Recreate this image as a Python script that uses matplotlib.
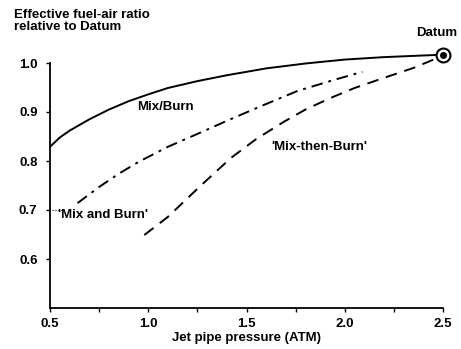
import numpy as np
import matplotlib
matplotlib.use("Agg")
import matplotlib.pyplot as plt
from matplotlib.ticker import MultipleLocator

plt.rcParams['font.family'] = ['Liberation Sans', 'DejaVu Sans']
plt.rcParams['font.weight'] = 'bold'
plt.rcParams['axes.labelweight'] = 'bold'

# Curves (jet pipe pressure in ATM, effective ratio)
mix_burn_p = [0.5, 0.55, 0.6, 0.7, 0.8, 0.9, 1.0, 1.1, 1.25, 1.4, 1.6, 1.8, 2.0, 2.2, 2.5]
mix_burn_r = [0.829, 0.848, 0.862, 0.885, 0.905, 0.922, 0.936, 0.949, 0.963, 0.975, 0.989, 0.999, 1.007, 1.012, 1.017]

mix_and_burn_p = [0.64, 0.75, 0.85, 0.95, 1.10, 1.26, 1.40, 1.58, 1.76, 1.95, 2.09]
mix_and_burn_r = [0.714, 0.747, 0.774, 0.798, 0.829, 0.857, 0.882, 0.913, 0.943, 0.966, 0.982]

mix_then_burn_p = [0.98, 1.10, 1.26, 1.42, 1.55, 1.69, 1.80, 1.93, 2.05, 2.18, 2.35, 2.47]
mix_then_burn_r = [0.649, 0.686, 0.747, 0.806, 0.845, 0.880, 0.905, 0.929, 0.949, 0.967, 0.990, 1.010]

datum = (2.5, 1.017)

fig = plt.figure(figsize=(4.61, 3.49), dpi=100)
ax = fig.add_axes([50/461, 41/349, 393/461, 269.5/349])

ax.plot(mix_burn_p, mix_burn_r, color='black', lw=1.4, ls='-')
ax.plot(mix_and_burn_p, mix_and_burn_r, color='black', lw=1.4, ls=(0, (6, 3, 1.5, 3)))
ax.plot(mix_then_burn_p, mix_then_burn_r, color='black', lw=1.4, ls=(0, (6, 4)))

# datum marker
ax.plot(*datum, marker='o', ms=10, mfc='white', mec='black', mew=1.5, clip_on=False, zorder=5)
ax.plot(*datum, marker='o', ms=4, color='black', clip_on=False, zorder=6)
ax.text(2.47, 1.05, 'Datum', fontsize=9.5, ha='center', va='bottom')

# curve labels
ax.text(1.085, 0.91, 'Mix/Burn', fontsize=9.5, ha='center', va='center')
ax.text(1.87, 0.829, "'Mix-then-Burn'", fontsize=9.5, ha='center', va='center')
ax.text(0.54, 0.69, "'Mix and Burn'", fontsize=9.5, ha='left', va='center')
ax.plot([0.51, 0.56], [0.70, 0.70], color='black', lw=0.8, ls=':')

ax.set_xlim(0.5, 2.5)
ax.set_ylim(0.5, 1.05)
ax.spines['top'].set_visible(False)
ax.spines['right'].set_visible(False)
ax.spines['left'].set_bounds(0.5, 1.0)
ax.spines['left'].set_linewidth(1.3)
ax.spines['bottom'].set_linewidth(1.3)

ax.set_xticks([0.5, 1.0, 1.5, 2.0, 2.5])
ax.set_xticklabels(['0.5', '1.0', '1.5', '2.0', '2.5'])
ax.xaxis.set_minor_locator(MultipleLocator(0.25))
ax.set_yticks([0.6, 0.7, 0.8, 0.9, 1.0])
ax.set_yticklabels(['0.6', '0.7', '0.8', '0.9', '1.0'])
ax.tick_params(axis='both', which='major', labelsize=9.5, length=3, width=1)
ax.tick_params(axis='x', which='minor', length=3, width=1)
ax.tick_params(axis='x', pad=4)
ax.tick_params(axis='y', pad=6)

ax.set_xlabel('Jet pipe pressure (ATM)', fontsize=9.5, labelpad=2)
fig.text(14/461, 1 - 21/349, 'Effective fuel-air ratio\nrelative to Datum', fontsize=9.5,
         ha='left', va='center', linespacing=1.1)

fig.savefig('out.png', dpi=100)
